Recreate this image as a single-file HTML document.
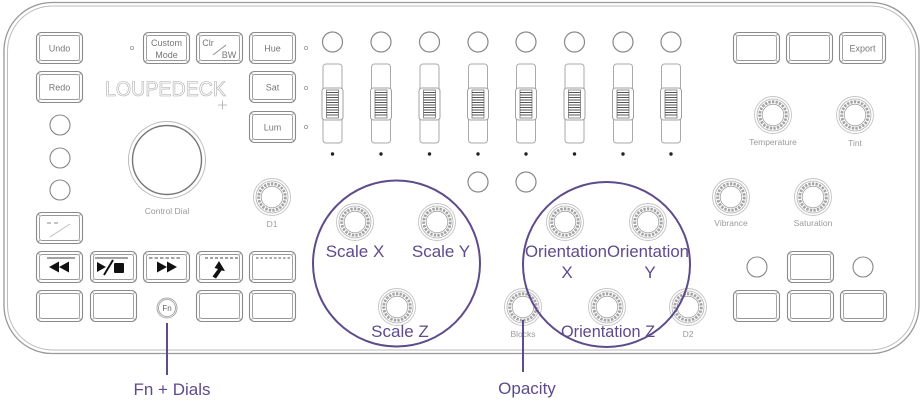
<!DOCTYPE html>
<html><head><meta charset="utf-8">
<style>
html,body{margin:0;padding:0;background:#fff;}
svg{display:block;}
.lbl{font-family:"Liberation Sans",sans-serif;font-size:9px;fill:#777;text-anchor:middle;}
.klbl{font-family:"Liberation Sans",sans-serif;font-size:8.5px;fill:#9a9a9a;text-anchor:middle;}
.pl{font-family:"Liberation Sans",sans-serif;font-size:17px;fill:#5e4b8b;text-anchor:middle;}
</style></head>
<body>
<svg width="923" height="402" viewBox="0 0 923 402" xmlns="http://www.w3.org/2000/svg">
<defs>
  <g id="key">
    <rect x="0.5" y="0.5" width="46" height="31" rx="5" fill="none" stroke="#8a8a8a" stroke-width="1.1"/>
    <rect x="3.5" y="3.5" width="40" height="25" rx="2.5" fill="none" stroke="#999" stroke-width="0.9"/>
    <path d="M1.8 1.8L3.8 3.8M45.2 1.8L43.2 3.8M1.8 30.2L3.8 28.2M45.2 30.2L43.2 28.2" stroke="#999" stroke-width="0.8"/>
  </g>
  <g id="knob">
    <circle r="18.5" fill="none" stroke="#c4c4c4" stroke-width="0.9"/>
    <circle r="16" fill="none" stroke="#b0b0b0" stroke-width="0.8"/>
    <circle r="13.3" fill="none" stroke="#a4a4a4" stroke-width="2.8" stroke-dasharray="2.4 1.2"/>
    <circle r="10.8" fill="none" stroke="#a0a0a0" stroke-width="0.8"/>
  </g>
  <g id="slider">
    <rect x="-9.5" y="64" width="19" height="79" rx="3" fill="none" stroke="#aaa" stroke-width="1"/>
    <rect x="-10.5" y="88" width="21" height="32" rx="3" fill="#fff" stroke="#a0a0a0" stroke-width="1"/>
    <rect x="-6" y="90" width="12" height="28" fill="none" stroke="#777" stroke-width="0.8"/>
    <path d="M-6 92.5H6M-6 95H6M-6 97.5H6M-6 100H6M-6 102.5H6M-6 105H6M-6 107.5H6M-6 110H6M-6 112.5H6M-6 115H6" stroke="#555" stroke-width="1"/>
    <circle cx="0" cy="154" r="1.7" fill="#222"/>
    <circle cx="0" cy="42" r="10" fill="none" stroke="#888" stroke-width="1.2"/>
  </g>
</defs>

<!-- device outline -->
<rect x="4" y="2.5" width="915" height="351" rx="48" fill="none" stroke="#999" stroke-width="1.3"/>
<rect x="7.5" y="6" width="908" height="344" rx="45" fill="none" stroke="#bbb" stroke-width="1"/>

<!-- left keys -->
<use href="#key" x="36" y="32"/>
<use href="#key" x="36" y="71"/>
<use href="#key" x="143" y="32"/>
<use href="#key" x="196" y="32"/>
<use href="#key" x="249" y="32"/>
<use href="#key" x="249" y="71"/>
<use href="#key" x="249" y="111"/>
<text class="lbl" x="59.5" y="51.5">Undo</text>
<text class="lbl" x="59.5" y="90.5">Redo</text>
<text class="lbl" x="166.5" y="46">Custom</text>
<text class="lbl" x="166.5" y="58">Mode</text>
<text class="lbl" x="208" y="46">Clr</text>
<line x1="213" y1="55" x2="226" y2="45" stroke="#888" stroke-width="0.8"/>
<text class="lbl" x="229" y="58">BW</text>
<text class="lbl" x="272.5" y="51.5">Hue</text>
<text class="lbl" x="272.5" y="90.5">Sat</text>
<text class="lbl" x="272.5" y="130.5">Lum</text>
<circle cx="132" cy="48" r="1.6" fill="none" stroke="#999" stroke-width="0.8"/>
<circle cx="306" cy="48" r="1.6" fill="none" stroke="#999" stroke-width="0.8"/>
<circle cx="306" cy="88" r="1.6" fill="none" stroke="#999" stroke-width="0.8"/>
<circle cx="306" cy="127" r="1.6" fill="none" stroke="#999" stroke-width="0.8"/>

<!-- logo -->
<text x="105" y="96" font-family="Liberation Sans, sans-serif" font-size="21" fill="none" stroke="#aaa" stroke-width="0.6" textLength="121" lengthAdjust="spacingAndGlyphs">LOUPEDECK</text>
<path d="M218 105H227M222.5 100.5V109.5" stroke="#aaa" stroke-width="0.8"/>

<!-- small left circles -->
<circle cx="60" cy="125" r="10" fill="none" stroke="#888" stroke-width="1.1"/>
<circle cx="60" cy="158" r="10" fill="none" stroke="#888" stroke-width="1.1"/>
<circle cx="60" cy="190" r="10" fill="none" stroke="#888" stroke-width="1.1"/>

<!-- control dial -->
<circle cx="167" cy="160" r="38.5" fill="none" stroke="#bbb" stroke-width="1"/>
<circle cx="167" cy="160" r="34.5" fill="none" stroke="#777" stroke-width="1.4"/>
<text class="klbl" x="167" y="214">Control Dial</text>

<!-- D1 -->
<use href="#knob" x="272" y="197"/>
<text class="klbl" x="272" y="227">D1</text>

<!-- sliders -->
<use href="#slider" x="332.5" y="0"/>
<use href="#slider" x="381" y="0"/>
<use href="#slider" x="429.5" y="0"/>
<use href="#slider" x="478" y="0"/>
<use href="#slider" x="526" y="0"/>
<use href="#slider" x="574.5" y="0"/>
<use href="#slider" x="623" y="0"/>
<use href="#slider" x="671" y="0"/>
<circle cx="478" cy="182" r="10" fill="none" stroke="#888" stroke-width="1.2"/>
<circle cx="526" cy="182" r="10" fill="none" stroke="#888" stroke-width="1.2"/>

<!-- left lower keys -->
<use href="#key" x="36" y="212"/>
<line x1="47" y1="223" x2="61" y2="223" stroke="#888" stroke-width="0.9" stroke-dasharray="4 3"/>
<line x1="50" y1="237" x2="70" y2="224" stroke="#bbb" stroke-width="0.9"/>

<use href="#key" x="36" y="251"/>
<use href="#key" x="90" y="251"/>
<use href="#key" x="143" y="251"/>
<use href="#key" x="196" y="251"/>
<use href="#key" x="249" y="251"/>
<use href="#key" x="36" y="290"/>
<use href="#key" x="90" y="290"/>
<use href="#key" x="196" y="290"/>
<use href="#key" x="249" y="290"/>

<!-- media icons -->
<line x1="47" y1="258" x2="75" y2="258" stroke="#444" stroke-width="1"/>
<polygon points="49,267 59,261.5 59,272.5" fill="#111"/>
<polygon points="59,267 69,261.5 69,272.5" fill="#111"/>

<line x1="95" y1="258" x2="128" y2="258" stroke="#444" stroke-width="1"/>
<polygon points="97,262 106,267 97,272" fill="#111"/>
<line x1="104" y1="275" x2="113" y2="260" stroke="#111" stroke-width="2"/>
<rect x="114" y="263" width="10" height="10" rx="1" fill="#111"/>

<line x1="149" y1="258" x2="182" y2="258" stroke="#444" stroke-width="1" stroke-dasharray="3.5 2"/>
<polygon points="157,261.5 167,267 157,272.5" fill="#111"/>
<polygon points="167,261.5 177,267 167,272.5" fill="#111"/>

<line x1="205" y1="258" x2="238" y2="258" stroke="#444" stroke-width="1" stroke-dasharray="3 2"/>
<polygon points="219,261 225,271 221.5,270.5 216,278.5 212.5,276.5 218,269 214.5,268" fill="#111"/>

<line x1="256" y1="258" x2="290" y2="258" stroke="#555" stroke-width="1" stroke-dasharray="2.5 2"/>

<!-- Fn -->
<circle cx="167" cy="308" r="10" fill="none" stroke="#aaa" stroke-width="1"/>
<circle cx="167" cy="308" r="8.5" fill="none" stroke="#999" stroke-width="0.8"/>
<text x="167" y="311" font-family="Liberation Sans, sans-serif" font-size="8" fill="#666" text-anchor="middle">Fn</text>

<!-- center knobs -->
<use href="#knob" x="355" y="222"/>
<use href="#knob" x="437" y="222"/>
<use href="#knob" x="397" y="307"/>
<use href="#knob" x="565" y="222"/>
<use href="#knob" x="648" y="222"/>
<use href="#knob" x="607" y="307"/>
<use href="#knob" x="523" y="307"/>
<use href="#knob" x="688" y="307"/>
<text class="klbl" x="523" y="337">Blocks</text>
<text class="klbl" x="688" y="337">D2</text>

<!-- right side -->
<use href="#key" x="733" y="32"/>
<use href="#key" x="786" y="32"/>
<use href="#key" x="839" y="32"/>
<text class="lbl" x="862.5" y="51.5">Export</text>
<use href="#knob" x="773" y="115"/>
<use href="#knob" x="855" y="115"/>
<text class="klbl" x="773" y="145">Temperature</text>
<text class="klbl" x="855" y="146">Tint</text>
<use href="#knob" x="731" y="197"/>
<use href="#knob" x="813" y="197"/>
<text class="klbl" x="731" y="226">Vibrance</text>
<text class="klbl" x="813" y="226">Saturation</text>
<circle cx="757" cy="267" r="10" fill="none" stroke="#888" stroke-width="1.1"/>
<circle cx="863" cy="267" r="10" fill="none" stroke="#888" stroke-width="1.1"/>
<use href="#key" x="787" y="251"/>
<use href="#key" x="733" y="290"/>
<use href="#key" x="787" y="290"/>
<use href="#key" x="840" y="290"/>

<!-- purple annotations -->
<ellipse cx="396.5" cy="263.5" rx="83.5" ry="83" fill="none" stroke="#5e4b8b" stroke-width="2"/>
<ellipse cx="606.5" cy="264.5" rx="83.5" ry="82.5" fill="none" stroke="#5e4b8b" stroke-width="2"/>
<text class="pl" x="355" y="257">Scale X</text>
<text class="pl" x="441" y="257">Scale Y</text>
<text class="pl" x="400" y="337">Scale Z</text>
<text class="pl" x="566" y="257" textLength="82" lengthAdjust="spacingAndGlyphs">Orientation</text>
<text class="pl" x="567" y="278">X</text>
<text class="pl" x="648" y="257" textLength="82" lengthAdjust="spacingAndGlyphs">Orientation</text>
<text class="pl" x="650" y="278">Y</text>
<text class="pl" x="608" y="337" textLength="94" lengthAdjust="spacingAndGlyphs">Orientation Z</text>

<line x1="167" y1="323" x2="167" y2="375" stroke="#5e4b8b" stroke-width="2"/>
<line x1="523" y1="320" x2="523" y2="372" stroke="#5e4b8b" stroke-width="2"/>
<text class="pl" x="172" y="395">Fn + Dials</text>
<text class="pl" x="527" y="394">Opacity</text>
</svg>
</body></html>
